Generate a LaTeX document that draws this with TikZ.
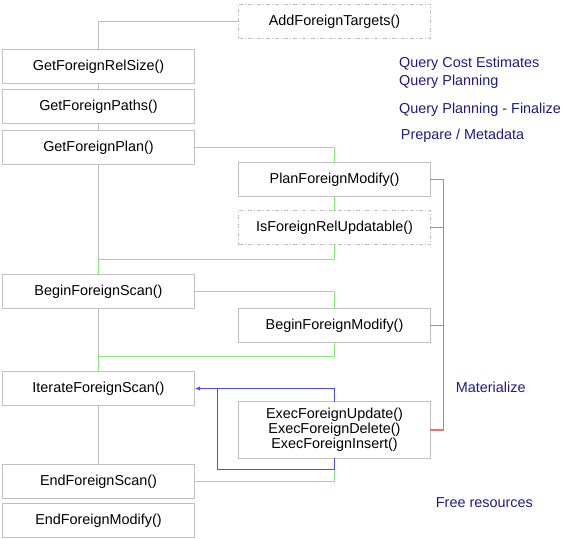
\documentclass[tikz,border=0pt]{standalone}
\usepackage{fontspec}
\setmainfont{Liberation Sans}
\usetikzlibrary{arrows.meta}
\definecolor{boxgray}{HTML}{C0C0C0}
\definecolor{linegray}{HTML}{BBBBBB}
\definecolor{lgreen}{HTML}{8AE87A}
\definecolor{lred}{HTML}{EC7070}
\definecolor{lblue}{HTML}{4E4EF0}
\definecolor{navy}{HTML}{1C1C80}
\tikzset{
  fnbox/.style={draw=boxgray, line width=1bp, minimum width=192bp, minimum height=34bp, inner sep=0pt, font=\fontsize{14.4bp}{17bp}\selectfont, align=center},
  optbox/.style={fnbox, dash pattern=on 4bp off 2bp on 1bp off 2bp},
  grayline/.style={draw=linegray, line width=1bp},
  greenline/.style={draw=lgreen, line width=1.3bp, line cap=rect},
  redline/.style={draw=lred, line width=1.3bp, line cap=rect},
  blueline/.style={draw=lblue, line width=1.3bp, line cap=rect},
  phase/.style={text=navy, anchor=west, inner sep=0pt, font=\fontsize{14.4bp}{17bp}\selectfont}
}
\begin{document}
\begin{tikzpicture}[x=1bp,y=-1bp]
\useasboundingbox (0,0) rectangle (563,539);
% left column
\node[fnbox] (relsize) at (98.5,66.5) {GetForeignRelSize()};
\node[fnbox] (paths) at (98.5,106.5) {GetForeignPaths()};
\node[fnbox] (plan) at (98.5,147.5) {GetForeignPlan()};
\node[fnbox] (beginscan) at (98.5,291.5) {BeginForeignScan()};
\node[fnbox] (iterate) at (98.5,388.5) {IterateForeignScan()};
\node[fnbox] (endscan) at (98.5,481.5) {EndForeignScan()};
\node[fnbox] (endmodify) at (98.5,520.5) {EndForeignModify()};
% right column
\node[optbox] (addtargets) at (334.5,21.5) {AddForeignTargets()};
\node[fnbox] (planmodify) at (334.5,179.5) {PlanForeignModify()};
\node[optbox] (isupd) at (334.5,227.5) {IsForeignRelUpdatable()};
\node[fnbox] (beginmodify) at (334.5,325.5) {BeginForeignModify()};
\node[fnbox, minimum height=57bp] (exec) at (334.5,430) {ExecForeignUpdate()\\[-2bp]ExecForeignDelete()\\[-2bp]ExecForeignInsert()};
% phase labels
\node[phase] (l1) at (399,63.3) {Query Cost Estimates};
\node[phase] (l2) at (399,81.7) {Query Planning};
\node[phase] (l3) at (399,110) {Query Planning - Finalize};
\node[phase] (l4) at (400.7,136) {Prepare / Metadata};
\node[phase] (l5) at (455.7,387.3) {Materialize};
\node[phase] (l6) at (435.7,502.3) {Free resources};
% junction coordinates
\coordinate (a0) at (98.5,21.5);
\coordinate (c1) at (98.5,259.5);
\coordinate (c2) at (98.5,356.5);
\coordinate (g1) at (334.5,147.5);
\coordinate (g2) at (334.5,259.5);
\coordinate (g3) at (334.5,291.5);
\coordinate (g4) at (334.5,356.5);
\coordinate (g5) at (334.5,481.5);
\coordinate (g6) at (334.5,388.5);
\coordinate (b1) at (217.5,388.5);
\coordinate (b2) at (217.5,469.5);
\coordinate (b3) at (334.5,469.5);
\coordinate (r1) at (443.5,179.5);
\coordinate (r2) at (443.5,227.5);
\coordinate (r3) at (443.5,325.5);
\coordinate (r4) at (443.5,430);
% gray connectors
\draw[grayline] (addtargets.west) -- (a0);
\draw[grayline] (a0) -- (relsize.north);
\draw[grayline] (relsize.south) -- (paths.north);
\draw[grayline] (paths.south) -- (plan.north);
\draw[grayline] (plan.south) -- (c1);
\draw[grayline] (beginscan.south) -- (c2);
\draw[grayline] (iterate.south) -- (endscan.north);
% green connectors
\draw[greenline] (plan.east) -- (g1);
\draw[greenline] (g1) -- (planmodify.north);
\draw[greenline] (planmodify.south) -- (isupd.north);
\draw[greenline] (isupd.south) -- (g2);
\draw[greenline] (g2) -- (c1);
\draw[greenline] (c1) -- (beginscan.north);
\draw[greenline] (beginscan.east) -- (g3);
\draw[greenline] (g3) -- (beginmodify.north);
\draw[greenline] (beginmodify.south) -- (g4);
\draw[greenline] (g4) -- (c2);
\draw[greenline] (c2) -- (iterate.north);
\draw[greenline] (exec.south) -- (g5);
\draw[greenline] (g5) -- (endscan.east);
% blue connectors
\draw[blueline] (exec.north) -- (g6);
\draw[blueline, line cap=butt, -{Latex[length=5bp,width=4.5bp]}] (g6) -- (iterate.east);
\draw[blueline] (b1) -- (b2);
\draw[blueline] (b2) -- (b3);
\draw[blueline] (b3) -- (exec.south);
% red bracket
\draw[redline] (planmodify.east) -- (r1);
\draw[redline] (r1) -- (r4);
\draw[redline] (isupd.east) -- (r2);
\draw[redline] (beginmodify.east) -- (r3);
\draw[redline] (exec.east) -- (r4);
\end{tikzpicture}
\end{document}
